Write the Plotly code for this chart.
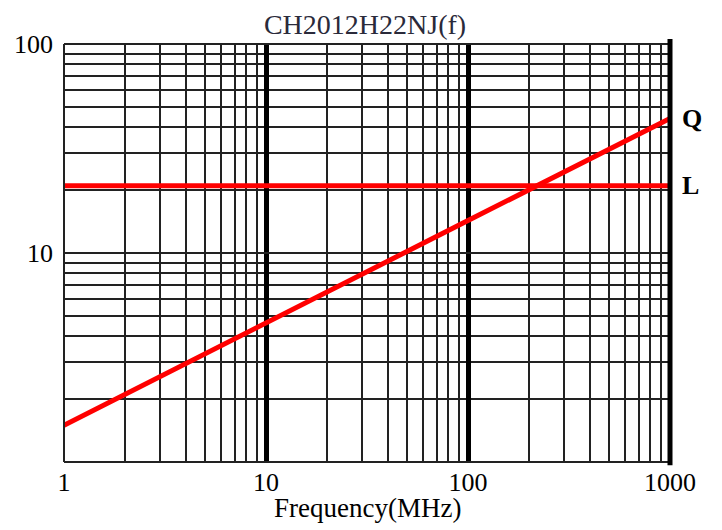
import math
import plotly.graph_objects as go

title_text = "CH2012H22NJ(f)"
x_title = "Frequency(MHz)"
freq_mhz = [1, 10, 100, 1000]
q_values = [1.5, 4.65, 14.3, 44.0]
l_values = [21.0, 21.0, 21.0, 21.0]
x_ticks = [1, 10, 100, 1000]
x_tick_text = ["1", "10", "100", "1000"]
y_ticks = [10, 100]
y_tick_text = ["10", "100"]
series_labels = ["Q", "L"]

serif = "Liberation Serif, Times New Roman, serif"

fig = go.Figure()
fig.add_trace(go.Scatter(x=freq_mhz, y=q_values, mode="lines",
                         line=dict(color="#ff0000", width=5), name="Q", showlegend=False))
fig.add_trace(go.Scatter(x=freq_mhz, y=l_values, mode="lines",
                         line=dict(color="#ff0000", width=5), name="L", showlegend=False))

# page body has an 8px margin; size the figure so the plot lands where the reference has it
fig.update_layout(
    width=714, height=522,
    margin=dict(l=56, r=52, t=36, b=68, autoexpand=False),
    paper_bgcolor="white", plot_bgcolor="white",
    title=dict(text=title_text, x=0.5, xanchor="center", y=0.969, yanchor="middle",
               font=dict(family=serif, size=28, color="#2a2a3a"), automargin=False),
    xaxis=dict(type="log", range=[0, 3], tickmode="array", tickvals=x_ticks, ticktext=x_tick_text,
               showgrid=True, gridcolor="black", gridwidth=4.5, ticks="", zeroline=False,
               showline=False, tickfont=dict(family=serif, size=26, color="black"),
               minor=dict(showgrid=True, gridcolor="#222222", gridwidth=2, dtick="D1", ticks=""),
               ticklabelstandoff=2, automargin=False, fixedrange=True),
    yaxis=dict(type="log", range=[0, 2], tickmode="array", tickvals=y_ticks, ticktext=y_tick_text,
               showgrid=True, gridcolor="#222222", gridwidth=2, ticks="", zeroline=False,
               showline=False, tickfont=dict(family=serif, size=26, color="black"),
               minor=dict(showgrid=True, gridcolor="#222222", gridwidth=2, dtick="D1", ticks=""),
               ticklabelstandoff=10, automargin=False, fixedrange=True),
)

# x-axis title
fig.add_annotation(x=0.5, xref="paper", y=0, yref="paper", yshift=-46, text=x_title,
                   showarrow=False, xanchor="center", yanchor="middle",
                   font=dict(family=serif, size=27, color="black"))

# plot frame: thin left/top/bottom, thick right
fig.add_shape(type="line", xref="paper", yref="paper", x0=0, x1=0, y0=0, y1=1,
              line=dict(color="#222222", width=2))
fig.add_shape(type="line", xref="paper", yref="paper", x0=0, x1=1, y0=1, y1=1,
              line=dict(color="#222222", width=2))
fig.add_shape(type="line", xref="paper", yref="paper", x0=0, x1=1, y0=0, y1=0,
              line=dict(color="#222222", width=2))
fig.add_shape(type="line", xref="paper", yref="paper", x0=1, x1=1, y0=-0.008, y1=1.012,
              line=dict(color="black", width=5))

# series labels at right end
for lab, vals in zip(series_labels, [q_values, l_values]):
    fig.add_annotation(x=1.0, xref="paper", y=math.log10(vals[-1]), yref="y",
                       text="<b>" + lab + "</b>", showarrow=False, xanchor="left", xshift=10,
                       yshift=0,
                       font=dict(family=serif, size=26, color="black"))

fig.write_html("out.html")
